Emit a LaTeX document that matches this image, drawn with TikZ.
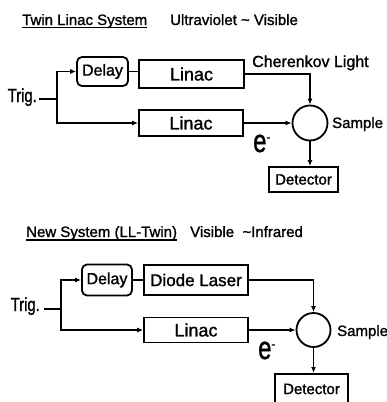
\documentclass[tikz,border=0pt]{standalone}
\usepackage{fontspec}
\setmainfont{Liberation Sans}[FakeBold=1.3]
\usetikzlibrary{arrows.meta}
\newcommand{\fsz}[1]{\fontsize{#1}{#1}\selectfont}
\newcommand{\elec}{\scalebox{0.85}[1.15]{\fsz{28}e}\raisebox{11pt}{\fsz{12}-}}
\newcommand{\trg}{\scalebox{0.78}[1]{\fsz{19}Trig.}}
\begin{document}
\begin{tikzpicture}[x=1pt,y=-1pt,
  lw/.style={line width=1.8pt},
  boxnode/.style={draw,lw,inner sep=0pt,font=\fsz{16}},
  dlynode/.style={boxnode,rounded corners=5pt},
  txt/.style={inner sep=0pt,font=\fsz{15}},
  ttl/.style={inner sep=0pt,font=\fsz{15}},
  circ/.style={draw,lw,circle,inner sep=0pt},
  arr/.style={lw,-{Latex[length=6pt,width=5pt]}},
  ln/.style={lw}]
\useasboundingbox (0,0) rectangle (386,402);
\fill[white] (0,0) rectangle (386,402);

% ---------- top system ----------
\node[ttl,anchor=base west] (title1) at (22,25) {Twin Linac System};
\draw[line width=1.1pt] ([yshift=-2.5pt]title1.base west) -- ([yshift=-2.5pt]title1.base east);
\node[ttl,anchor=base west] (range1) at (170,25) {Ultraviolet \textasciitilde\ Visible};

\node[dlynode,minimum width=51pt,minimum height=29pt] (delay1) at (102.5,71.5) {Delay};
\node[boxnode,font=\fsz{18},minimum width=105pt,minimum height=28pt] (linac1) at (191.5,74) {Linac};
\node[boxnode,font=\fsz{18},minimum width=104pt,minimum height=26pt] (linac2) at (191,123) {Linac};
\node[circ,minimum size=35pt] (sample1) at (310,123) {};
\node[boxnode,font=\fsz{15},minimum width=69pt,minimum height=25pt] (det1) at (303.5,179.5) {Detector};

\node[inner sep=0pt,anchor=base east] (trig1) at (37,102) {\trg};
\node[txt,font=\fsz{16},anchor=base west] (cher) at (252,67) {Cherenkov Light};
\node[txt,anchor=base west] (samp1) at (332,128) {Sample};
\node[inner sep=0pt,anchor=base west] (el1) at (253,152) {\elec};

\coordinate (tr1) at (39,99);
\coordinate (br1) at (57,99);
\draw[ln] (tr1) -- (br1);
\draw[arr] (br1) |- (delay1.west);
\draw[arr] (br1) |- (linac2.west);
\draw[ln] (delay1.east) -- (delay1.east -| linac1.west);
\draw[arr] (linac1.east) -| (sample1.north);
\draw[arr] (linac2.east) -- (sample1.west);
\draw[arr] (sample1.south) -- (sample1.south |- det1.north);

% ---------- bottom system ----------
\node[ttl,anchor=base west] (title2) at (26,237) {New System (LL-Twin)};
\draw[line width=1.1pt] ([yshift=-3pt]title2.base west) -- ([yshift=-3pt]title2.base east);
\node[ttl,anchor=base west] (range2) at (190,237) {Visible \ \textasciitilde Infrared};

\node[dlynode,minimum width=50pt,minimum height=31pt] (delay2) at (107,280) {Delay};
\node[boxnode,font=\fsz{17},minimum width=104pt,minimum height=30pt] (diode) at (196,280) {Diode Laser};
\node[boxnode,font=\fsz{18},minimum width=104pt,minimum height=25pt] (linac3) at (196,330) {Linac};
\node[circ,minimum size=34pt] (sample2) at (313.5,330) {};
\node[draw,lw,inner sep=0pt,minimum width=73pt,minimum height=34pt,anchor=north] (det2) at (311.5,373) {};
\node[txt] (det2t) at (311.5,389) {Detector};

\node[inner sep=0pt,anchor=base east] (trig2) at (40,311) {\trg};
\node[txt,anchor=base west] (samp2) at (337,336) {Sample};
\node[inner sep=0pt,anchor=base west] (el2) at (258,359) {\elec};

\coordinate (tr2) at (44,309);
\coordinate (br2) at (61,309);
\draw[ln] (tr2) -- (br2);
\draw[arr] (br2) |- (delay2.west);
\draw[arr] (br2) |- (linac3.west);
\draw[ln] (delay2.east) -- (diode.west);
\draw[arr] (diode.east) -| (sample2.north);
\draw[arr] (linac3.east) -- (sample2.west);
\draw[arr] (sample2.south) -- (sample2.south |- det2.north);
\end{tikzpicture}
\end{document}
